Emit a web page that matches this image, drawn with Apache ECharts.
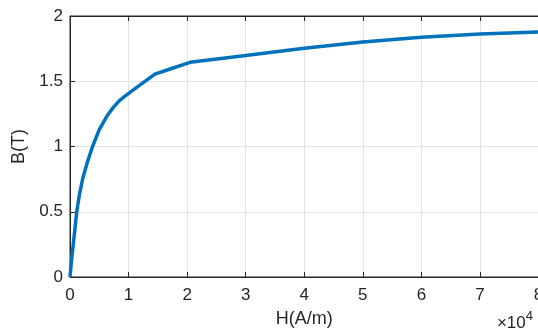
<!DOCTYPE html>
<html>
<head>
<meta charset="utf-8">
<script src="https://cdn.jsdelivr.net/npm/echarts@6/dist/echarts.min.js"></script>
<style>
  html, body { margin: 0; padding: 0; background: #fff; }
  #chart { width: 538px; height: 331px; }
</style>
</head>
<body>
<div id="chart"></div>
<script>
// H in units of 1e4 A/m
const hValues = [0, 0.02, 0.046, 0.08, 0.115, 0.16, 0.22, 0.30, 0.385, 0.50, 0.64, 0.74, 0.84, 0.95, 1.07, 1.25, 1.45, 1.71, 2.05, 3.0, 4.0, 5.0, 6.0, 7.0, 8.0];
// B in T
const bValues = [0, 0.10, 0.21, 0.35, 0.50, 0.63, 0.76, 0.885, 1.00, 1.13, 1.24, 1.30, 1.35, 1.39, 1.43, 1.49, 1.555, 1.594, 1.645, 1.697, 1.753, 1.80, 1.838, 1.862, 1.877];
const xTicks = [0, 1, 2, 3, 4, 5, 6, 7, 8];
const yTicks = [0, 0.5, 1, 1.5, 2];

const axisColor = '#262626';
const gridColor = '#e3e3e3';
const fontFamily = '"Liberation Sans", Arial, sans-serif';

const myChart = echarts.init(document.getElementById('chart'));

const tickStyle = {
  show: true,
  inside: true,
  length: 5,
  lineStyle: { color: axisColor, width: 1 }
};

myChart.setOption({
  animation: false,
  grid: {
    left: 70,
    top: 16,
    width: 468.5,
    height: 261,
    show: true,
    borderColor: axisColor,
    borderWidth: 1,
    outerBoundsMode: 'none'
  },
  xAxis: [
    {
      type: 'value',
      min: xTicks[0],
      max: xTicks[xTicks.length - 1],
      interval: 1,
      name: 'H(A/m)',
      nameLocation: 'middle',
      nameGap: 33,
      nameTextStyle: { fontFamily, fontSize: 18, color: axisColor },
      axisLine: { show: true, lineStyle: { color: axisColor, width: 1 } },
      axisTick: tickStyle,
      axisLabel: { fontFamily, fontSize: 17, color: axisColor, margin: 10 },
      splitLine: { show: true, lineStyle: { color: gridColor, width: 1 } }
    },
    {
      type: 'value',
      position: 'top',
      min: xTicks[0],
      max: xTicks[xTicks.length - 1],
      interval: 1,
      axisLine: { show: true, lineStyle: { color: axisColor, width: 1 } },
      axisTick: tickStyle,
      axisLabel: { show: false },
      splitLine: { show: false }
    }
  ],
  yAxis: {
    type: 'value',
    min: yTicks[0],
    max: yTicks[yTicks.length - 1],
    interval: 0.5,
    name: 'B(T)',
    nameLocation: 'middle',
    nameGap: 39,
    nameTextStyle: { fontFamily, fontSize: 18, color: axisColor },
    axisLine: { show: true, lineStyle: { color: axisColor, width: 1 } },
    axisTick: tickStyle,
    axisLabel: { fontFamily, fontSize: 17, color: axisColor, margin: 7 },
    splitLine: { show: true, lineStyle: { color: gridColor, width: 1 } }
  },
  graphic: [
    {
      type: 'text',
      right: 5,
      bottom: -1,
      style: {
        text: '{a|×10}{b|4}',
        rich: {
          a: { fontFamily, fontSize: 17, fill: axisColor, verticalAlign: 'bottom' },
          b: { fontFamily, fontSize: 13, fill: axisColor, verticalAlign: 'top', padding: [0, 0, 9, 0] }
        }
      }
    }
  ],
  series: [
    {
      type: 'line',
      data: hValues.map((h, i) => [h, bValues[i]]),
      showSymbol: false,
      smooth: false,
      clip: true,
      lineStyle: { color: '#0072BD', width: 3.5 },
      itemStyle: { color: '#0072BD' }
    }
  ]
});
</script>
</body>
</html>
